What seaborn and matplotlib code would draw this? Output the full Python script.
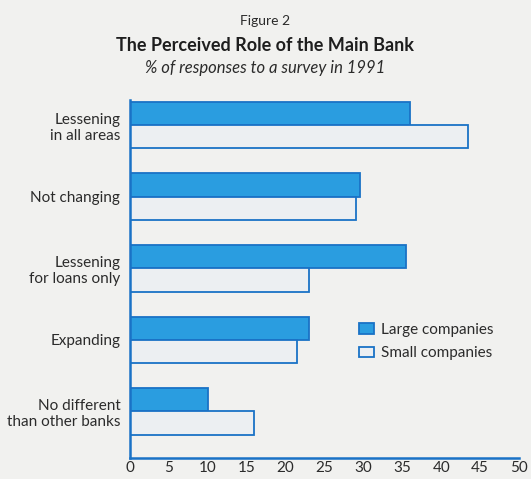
import matplotlib
matplotlib.use("Agg")
import matplotlib.pyplot as plt
import seaborn as sns
import pandas as pd
from matplotlib.patches import Patch

categories = ["Lessening\nin all areas", "Not changing", "Lessening\nfor loans only",
              "Expanding", "No different\nthan other banks"]
large_companies = [36, 29.5, 35.5, 23, 10]
small_companies = [43.5, 29, 23, 21.5, 16]
series_names = ["Large companies", "Small companies"]
x_ticks = [0, 5, 10, 15, 20, 25, 30, 35, 40, 45, 50]

df = pd.DataFrame({
    "category": categories * 2,
    "value": large_companies + small_companies,
    "series": [series_names[0]] * len(categories) + [series_names[1]] * len(categories),
})

sns.set_theme(style="white")
plt.rcParams["font.family"] = ["Lato", "DejaVu Sans"]

bg = "#f1f1ef"
blue_fill = "#2a9de0"
light_fill = "#eceff2"
edge = "#1a72c6"
text_col = "#2b2b2b"

fig = plt.figure(figsize=(5.31, 4.79), dpi=100, facecolor=bg)
ax = fig.add_axes([130 / 531, 21 / 479, 389 / 531, 358 / 479])
ax.set_facecolor(bg)

sns.barplot(data=df, y="category", x="value", hue="series", orient="h",
            palette=[blue_fill, light_fill], width=0.65, edgecolor=edge,
            linewidth=1.3, ax=ax, legend=False, saturation=1)

ax.set_xlim(0, 50)
ax.set_ylim(4.65, -0.35)
ax.set_xticks(x_ticks)
ax.set_xticklabels([str(t) for t in x_ticks], fontsize=11, color=text_col)
ax.set_yticks(range(len(categories)))
ax.set_yticklabels(categories, fontsize=11, color=text_col, linespacing=1.2)
ax.set_xlabel("")
ax.set_ylabel("")

for s in ["top", "right"]:
    ax.spines[s].set_visible(False)
for s in ["left", "bottom"]:
    ax.spines[s].set_color(edge)
    ax.spines[s].set_linewidth(1.8)

ax.tick_params(axis="x", direction="in", length=6, width=1.2, color=edge, pad=2)
ax.tick_params(axis="y", length=0, pad=7)

handles = [Patch(facecolor=blue_fill, edgecolor=edge, linewidth=1.3),
           Patch(facecolor=light_fill, edgecolor=edge, linewidth=1.3)]
ax.legend(handles, series_names, loc="upper left", bbox_to_anchor=(0.553, 0.415),
          frameon=False, fontsize=11, handlelength=1.0, handleheight=0.7,
          handletextpad=0.45, labelspacing=0.6, labelcolor=text_col)

fig.text(0.5, 0.957, "Figure 2", ha="center", va="center", fontsize=10, color=text_col)
fig.text(0.5, 0.905, "The Perceived Role of the Main Bank", ha="center", va="center",
         fontsize=13, fontweight="bold", color="#1e1e1e")
fig.text(0.5, 0.858, "% of responses to a survey in 1991", ha="center", va="center",
         fontsize=12, style="italic", color=text_col)

fig.savefig("out.png", dpi=100, facecolor=bg)
